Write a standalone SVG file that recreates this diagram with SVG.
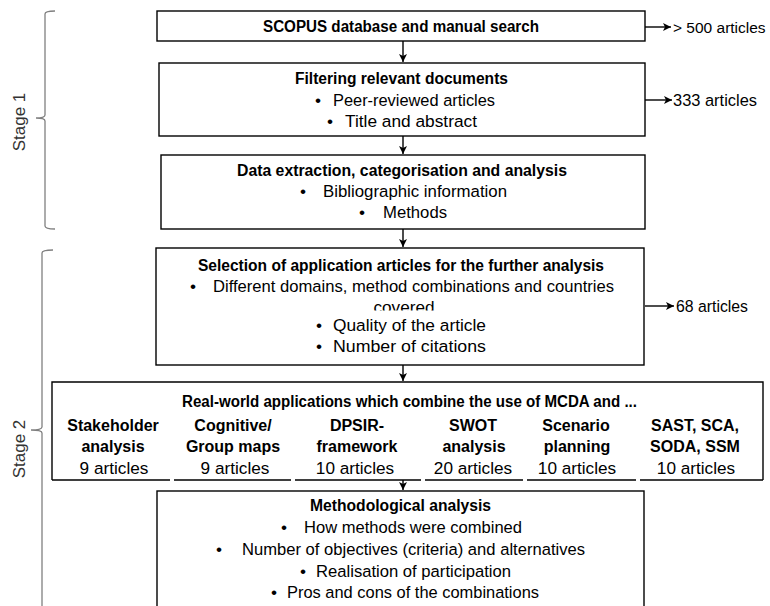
<svg xmlns="http://www.w3.org/2000/svg" width="770" height="606" viewBox="0 0 770 606">
<defs>
<marker id="ah" markerWidth="10" markerHeight="10" refX="9" refY="5" orient="auto" markerUnits="userSpaceOnUse">
<path d="M1,1 L9,5 L1,9 L3,5 Z" fill="#000"/>
</marker>
<clipPath id="cov"><rect x="150" y="296" width="500" height="14.5"/></clipPath>
</defs>
<style>
text{font-family:"Liberation Sans",Arial,sans-serif;fill:#000}
.b{font-size:16px;font-weight:bold}
.r{font-size:17.2px}
.m{text-anchor:middle}
.box{fill:#fff;stroke:#000;stroke-width:1.4}
.con{stroke:#000;stroke-width:1.4;fill:none}
.brace{fill:none;stroke:#808080;stroke-width:1.3}
.st{font-size:17px;fill:#333}
</style>
<rect width="770" height="606" fill="#fff"/>

<g id="stage1">
<path class="brace" d="M55,11 Q45,11 45,14 V115 Q45,118 36,118 Q45,118 45,121 V226 Q45,229 55,229"/>
<text class="st m" transform="translate(25,122) rotate(-90)">Stage 1</text>
</g>
<g id="stage2">
<path class="brace" d="M53,250 Q42,250 42,253 V427 Q42,430 31,430 Q42,430 42,433 V612"/>
<text class="st m" transform="translate(25,449) rotate(-90)">Stage 2</text>
</g>

<g id="connectors">
<line class="con" x1="403" y1="41" x2="403" y2="62" marker-end="url(#ah)"/>
<line class="con" x1="403" y1="136" x2="403" y2="154" marker-end="url(#ah)"/>
<line class="con" x1="403" y1="229" x2="403" y2="247" marker-end="url(#ah)"/>
<line class="con" x1="403" y1="365" x2="403" y2="381" marker-end="url(#ah)"/>
<line class="con" x1="403" y1="480" x2="403" y2="490" marker-end="url(#ah)"/>
<line class="con" x1="645" y1="27" x2="671" y2="27" marker-end="url(#ah)"/>
<line class="con" x1="645" y1="100" x2="672" y2="100" marker-end="url(#ah)"/>
<line class="con" x1="645" y1="306" x2="674" y2="306" marker-end="url(#ah)"/>
</g>

<g id="n1">
<rect class="box" x="157" y="11" width="488" height="30"/>
<text class="b" x="263" y="32" textLength="276" lengthAdjust="spacingAndGlyphs">SCOPUS database and manual search</text>
</g>
<text id="c1" x="673" y="33" style="font-size:15.5px">&gt; 500 articles</text>

<g id="n2">
<rect class="box" x="159" y="63" width="486" height="73"/>
<text class="b" x="295" y="84" textLength="213" lengthAdjust="spacingAndGlyphs">Filtering relevant documents</text>
<text class="r m" x="318" y="106">•</text>
<text class="r" x="333" y="106" textLength="162" lengthAdjust="spacingAndGlyphs">Peer-reviewed articles</text>
<text class="r m" x="330" y="127">•</text>
<text class="r" x="345" y="127" textLength="132" lengthAdjust="spacingAndGlyphs">Title and abstract</text>
</g>
<text id="c2" class="r" x="673" y="106" textLength="84" lengthAdjust="spacingAndGlyphs">333 articles</text>

<g id="n3">
<rect class="box" x="161" y="155" width="484" height="74"/>
<text class="b" x="237" y="176" textLength="330" lengthAdjust="spacingAndGlyphs">Data extraction,  categorisation and analysis</text>
<text class="r m" x="303" y="197">•</text>
<text class="r" x="323" y="197" textLength="184" lengthAdjust="spacingAndGlyphs">Bibliographic information</text>
<text class="r m" x="362" y="218">•</text>
<text class="r" x="383" y="218" textLength="64" lengthAdjust="spacingAndGlyphs">Methods</text>
</g>

<g id="n4">
<rect class="box" x="156" y="248" width="488" height="117"/>
<text class="b" x="198" y="271" textLength="406" lengthAdjust="spacingAndGlyphs">Selection of application articles for the further analysis</text>
<text class="r m" x="193" y="292">•</text>
<text class="r" x="213" y="292" textLength="401" lengthAdjust="spacingAndGlyphs">Different domains, method combinations and countries</text>
<text class="r m" x="404" y="313" clip-path="url(#cov)">covered</text>
<text class="r m" x="319" y="331">•</text>
<text class="r" x="333" y="331" textLength="153" lengthAdjust="spacingAndGlyphs">Quality of the article</text>
<text class="r m" x="319" y="352">•</text>
<text class="r" x="333" y="352" textLength="153" lengthAdjust="spacingAndGlyphs">Number of citations</text>
</g>
<text id="c4" class="r" x="676" y="312" textLength="72" lengthAdjust="spacingAndGlyphs">68 articles</text>

<g id="n5">
<rect x="52" y="382" width="711" height="98" fill="#fff"/>
<path class="con" d="M52,480 V382 H763 V480"/>
<path class="con" d="M52,480 H170 M174,480 H291 M295,480 H421 M425,480 H523 M527,480 H636 M640,480 H763"/>
<text class="b" x="182" y="407" textLength="455" lengthAdjust="spacingAndGlyphs">Real-world applications which combine the use of MCDA and ...</text>
<text class="b m" x="113" y="431">Stakeholder</text>
<text class="b m" x="113" y="452">analysis</text>
<text class="r m" x="114" y="474">9 articles</text>
<text class="b m" x="233" y="431">Cognitive/</text>
<text class="b m" x="233" y="452">Group maps</text>
<text class="r m" x="235" y="474">9 articles</text>
<text class="b m" x="357" y="431">DPSIR-</text>
<text class="b m" x="357" y="452">framework</text>
<text class="r m" x="355" y="474">10 articles</text>
<text class="b m" x="473" y="431">SWOT</text>
<text class="b m" x="474" y="452">analysis</text>
<text class="r m" x="473" y="474">20 articles</text>
<text class="b m" x="576" y="431">Scenario</text>
<text class="b m" x="577" y="452">planning</text>
<text class="r m" x="577" y="474">10 articles</text>
<text class="b m" x="695" y="431">SAST, SCA,</text>
<text class="b m" x="695" y="452">SODA, SSM</text>
<text class="r m" x="696" y="474">10 articles</text>
</g>

<g id="n6">
<rect class="box" x="157" y="491" width="487" height="130"/>
<text class="b" x="310" y="511" textLength="181" lengthAdjust="spacingAndGlyphs">Methodological analysis</text>
<text class="r m" x="284" y="533">•</text>
<text class="r" x="304" y="533" textLength="218" lengthAdjust="spacingAndGlyphs">How methods were combined</text>
<text class="r m" x="219" y="555">•</text>
<text class="r" x="242" y="555" textLength="343" lengthAdjust="spacingAndGlyphs">Number of objectives (criteria) and alternatives</text>
<text class="r m" x="303" y="577">•</text>
<text class="r" x="316" y="577" textLength="195" lengthAdjust="spacingAndGlyphs">Realisation of participation</text>
<text class="r m" x="274" y="598">•</text>
<text class="r" x="287" y="598" textLength="252" lengthAdjust="spacingAndGlyphs">Pros and cons of the combinations</text>
</g>
</svg>
